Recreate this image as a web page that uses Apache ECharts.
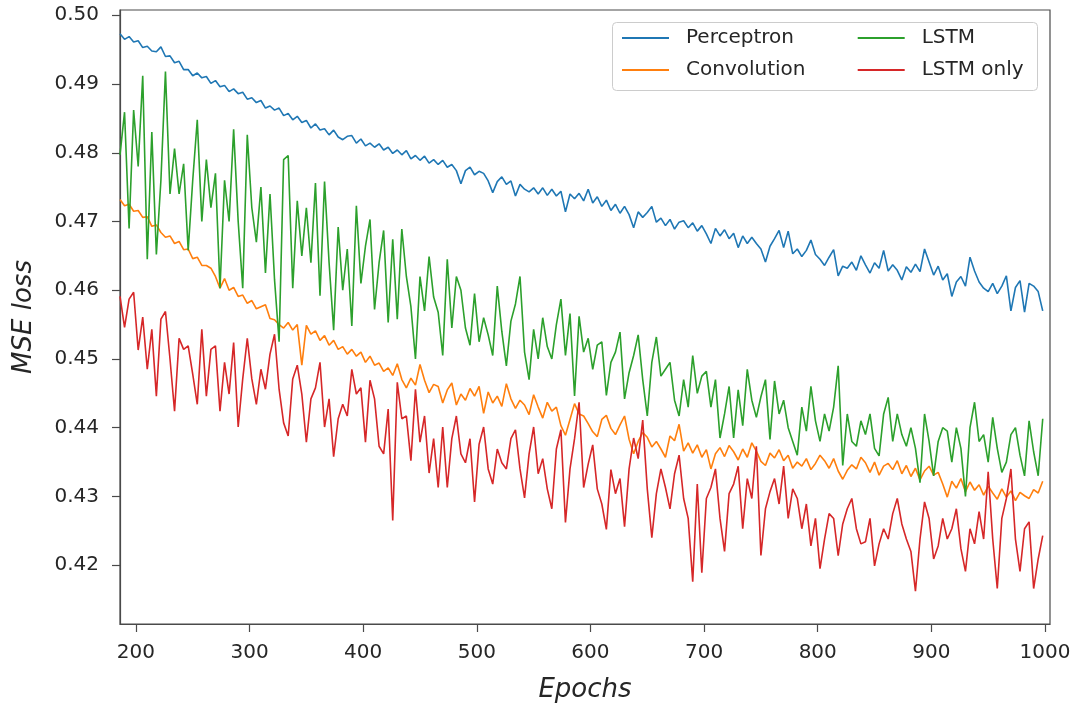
<!DOCTYPE html>
<html>
<head>
<meta charset="utf-8">
<title>MSE loss per epoch</title>
<script src="https://cdn.jsdelivr.net/npm/echarts@6/dist/echarts.min.js"></script>
<style>
  html, body { margin: 0; padding: 0; background: #ffffff; }
  #chart { width: 1075px; height: 708px; }
</style>
</head>
<body>
<div id="chart"></div>
<script>
// MSE loss of four model variants, sampled every 4 epochs from epoch 186.
const EPOCH_START = 186;
const EPOCH_STEP = 4;

const xTicks = [200, 300, 400, 500, 600, 700, 800, 900, 1000];
const yTicks = [0.42, 0.43, 0.44, 0.45, 0.46, 0.47, 0.48, 0.49, 0.50];

const seriesNames = ['Perceptron', 'Convolution', 'LSTM', 'LSTM only'];

const perceptron = [
  0.4973, 0.4965, 0.4969, 0.4961, 0.4963, 0.4953, 0.4955, 0.4948, 0.4947, 0.4954,
  0.4940, 0.4941, 0.4931, 0.4933, 0.4921, 0.4921, 0.4912, 0.4916, 0.4909, 0.4911,
  0.4901, 0.4905, 0.4896, 0.4898, 0.4889, 0.4893, 0.4886, 0.4888, 0.4878, 0.4880,
  0.4873, 0.4876, 0.4865, 0.4868, 0.4862, 0.4865, 0.4854, 0.4857, 0.4848, 0.4853,
  0.4844, 0.4847, 0.4836, 0.4842, 0.4833, 0.4835, 0.4826, 0.4833, 0.4823, 0.4819,
  0.4824, 0.4825, 0.4814, 0.4820, 0.4810, 0.4814, 0.4808, 0.4813, 0.4804, 0.4808,
  0.4799, 0.4804, 0.4797, 0.4803, 0.4791, 0.4796, 0.4789, 0.4795, 0.4785, 0.4790,
  0.4783, 0.4789, 0.4779, 0.4783, 0.4774, 0.4755, 0.4774, 0.4779, 0.4768, 0.4773,
  0.4770, 0.4759, 0.4742, 0.4758, 0.4765, 0.4754, 0.4759, 0.4737, 0.4754, 0.4747,
  0.4743, 0.4749, 0.4740, 0.4749, 0.4738, 0.4747, 0.4737, 0.4744, 0.4714, 0.4740,
  0.4733, 0.4741, 0.4730, 0.4747, 0.4727, 0.4736, 0.4722, 0.4731, 0.4716, 0.4725,
  0.4712, 0.4722, 0.4710, 0.4691, 0.4714, 0.4706, 0.4713, 0.4722, 0.4699, 0.4705,
  0.4694, 0.4703, 0.4689, 0.4699, 0.4701, 0.4691, 0.4698, 0.4686, 0.4694, 0.4682,
  0.4668, 0.4690, 0.4679, 0.4688, 0.4675, 0.4683, 0.4662, 0.4679, 0.4668, 0.4677,
  0.4668, 0.4660, 0.4641, 0.4664, 0.4675, 0.4687, 0.4662, 0.4686, 0.4653, 0.4660,
  0.4649, 0.4658, 0.4673, 0.4652, 0.4645, 0.4636, 0.4648, 0.4659, 0.4621, 0.4635,
  0.4632, 0.4641, 0.4629, 0.4650, 0.4637, 0.4625, 0.4640, 0.4632, 0.4658, 0.4628,
  0.4637, 0.4629, 0.4615, 0.4634, 0.4626, 0.4638, 0.4627, 0.4660, 0.4641, 0.4622,
  0.4635, 0.4615, 0.4624, 0.4591, 0.4612, 0.4620, 0.4606, 0.4648, 0.4628, 0.4612,
  0.4603, 0.4598, 0.4610, 0.4595, 0.4606, 0.4621, 0.4570, 0.4604, 0.4614, 0.4568,
  0.4610, 0.4606, 0.4598, 0.4570
];

const convolution = [
  0.4732, 0.4723, 0.4725, 0.4715, 0.4716, 0.4706, 0.4707, 0.4693, 0.4695, 0.4684,
  0.4677, 0.4679, 0.4668, 0.4671, 0.4659, 0.4660, 0.4646, 0.4648, 0.4636, 0.4636,
  0.4632, 0.4620, 0.4603, 0.4617, 0.4600, 0.4604, 0.4591, 0.4593, 0.4581, 0.4585,
  0.4573, 0.4576, 0.4579, 0.4559, 0.4557, 0.4550, 0.4545, 0.4553, 0.4542, 0.4550,
  0.4491, 0.4549, 0.4536, 0.4541, 0.4527, 0.4534, 0.4520, 0.4527, 0.4514, 0.4518,
  0.4507, 0.4514, 0.4504, 0.4510, 0.4495, 0.4504, 0.4491, 0.4494, 0.4482, 0.4487,
  0.4476, 0.4493, 0.4470, 0.4458, 0.4472, 0.4462, 0.4492, 0.4469, 0.4451, 0.4463,
  0.4460, 0.4436, 0.4455, 0.4465, 0.4433, 0.4449, 0.4440, 0.4457, 0.4446, 0.4460,
  0.4421, 0.4452, 0.4436, 0.4446, 0.4431, 0.4464, 0.4442, 0.4428, 0.4440, 0.4433,
  0.4419, 0.4448, 0.4430, 0.4414, 0.4437, 0.4424, 0.4430, 0.4403, 0.4389, 0.4412,
  0.4435, 0.4420, 0.4417, 0.4406, 0.4394, 0.4387, 0.4412, 0.4418, 0.4399, 0.4390,
  0.4404, 0.4417, 0.4383, 0.4362, 0.4380, 0.4393, 0.4386, 0.4372, 0.4380, 0.4369,
  0.4357, 0.4388, 0.4381, 0.4405, 0.4366, 0.4378, 0.4363, 0.4375, 0.4357, 0.4368,
  0.4340, 0.4362, 0.4371, 0.4358, 0.4374, 0.4365, 0.4353, 0.4369, 0.4357, 0.4378,
  0.4366, 0.4351, 0.4345, 0.4363, 0.4356, 0.4368, 0.4352, 0.4360, 0.4341, 0.4350,
  0.4344, 0.4355, 0.4339, 0.4348, 0.4360, 0.4352, 0.4341, 0.4355, 0.4337, 0.4325,
  0.4338, 0.4346, 0.4340, 0.4357, 0.4349, 0.4335, 0.4350, 0.4331, 0.4344, 0.4348,
  0.4339, 0.4352, 0.4333, 0.4345, 0.4329, 0.4341, 0.4324, 0.4337, 0.4344, 0.4331,
  0.4335, 0.4318, 0.4299, 0.4322, 0.4312, 0.4326, 0.4307, 0.4321, 0.4309, 0.4317,
  0.4302, 0.4315, 0.4305, 0.4296, 0.4311, 0.4299, 0.4308, 0.4294, 0.4306, 0.4301,
  0.4297, 0.4310, 0.4305, 0.4322
];

const lstm = [
  0.4797, 0.4859, 0.4690, 0.4862, 0.4780, 0.4912, 0.4645, 0.4830, 0.4652, 0.4760,
  0.4918, 0.4740, 0.4806, 0.4740, 0.4784, 0.4658, 0.4760, 0.4848, 0.4700, 0.4790,
  0.4720, 0.4770, 0.4603, 0.4760, 0.4700, 0.4834, 0.4700, 0.4603, 0.4826, 0.4720,
  0.4670, 0.4750, 0.4625, 0.4740, 0.4615, 0.4525, 0.4790, 0.4796, 0.4603, 0.4730,
  0.4650, 0.4720, 0.4640, 0.4756, 0.4592, 0.4758, 0.4640, 0.4542, 0.4692, 0.4600,
  0.4660, 0.4548, 0.4723, 0.4610, 0.4664, 0.4703, 0.4572, 0.4640, 0.4687, 0.4553,
  0.4674, 0.4558, 0.4689, 0.4620, 0.4576, 0.4500, 0.4620, 0.4570, 0.4649, 0.4590,
  0.4568, 0.4505, 0.4645, 0.4545, 0.4620, 0.4600, 0.4545, 0.4520, 0.4595, 0.4525,
  0.4560, 0.4535, 0.4505, 0.4606, 0.4540, 0.4490, 0.4555, 0.4580, 0.4620, 0.4510,
  0.4470, 0.4543, 0.4500, 0.4560, 0.4518, 0.4500, 0.4550, 0.4587, 0.4505, 0.4566,
  0.4446, 0.4562, 0.4510, 0.4530, 0.4485, 0.4520, 0.4525, 0.4447, 0.4495, 0.4510,
  0.4539, 0.4442, 0.4480, 0.4505, 0.4535, 0.4470, 0.4417, 0.4495, 0.4532, 0.4475,
  0.4485, 0.4495, 0.4440, 0.4417, 0.4470, 0.4430, 0.4505, 0.4450, 0.4475, 0.4482,
  0.4430, 0.4470, 0.4385, 0.4420, 0.4460, 0.4385, 0.4455, 0.4403, 0.4485, 0.4440,
  0.4415, 0.4445, 0.4470, 0.4383, 0.4468, 0.4420, 0.4440, 0.4400, 0.4380, 0.4360,
  0.4430, 0.4395, 0.4460, 0.4410, 0.4380, 0.4420, 0.4395, 0.4430, 0.4490, 0.4345,
  0.4420, 0.4380, 0.4373, 0.4410, 0.4390, 0.4420, 0.4370, 0.4359, 0.4420, 0.4444,
  0.4380, 0.4420, 0.4390, 0.4373, 0.4400, 0.4370, 0.4320, 0.4420, 0.4380, 0.4330,
  0.4380, 0.4400, 0.4395, 0.4350, 0.4400, 0.4370, 0.4300, 0.4400, 0.4437, 0.4380,
  0.4390, 0.4350, 0.4415, 0.4370, 0.4335, 0.4350, 0.4390, 0.4400, 0.4360, 0.4330,
  0.4410, 0.4365, 0.4330, 0.4413
];

const lstmOnly = [
  0.4591, 0.4546, 0.4587, 0.4597, 0.4513, 0.4561, 0.4485, 0.4543, 0.4446, 0.4558,
  0.4569, 0.4500, 0.4424, 0.4530, 0.4514, 0.4519, 0.4478, 0.4434, 0.4543, 0.4446,
  0.4514, 0.4519, 0.4424, 0.4495, 0.4449, 0.4524, 0.4401, 0.4471, 0.4530, 0.4471,
  0.4434, 0.4485, 0.4456, 0.4507, 0.4536, 0.4456, 0.4407, 0.4388, 0.4471, 0.4491,
  0.4449, 0.4379, 0.4442, 0.4458, 0.4495, 0.4401, 0.4442, 0.4358, 0.4413, 0.4434,
  0.4417, 0.4485, 0.4449, 0.4458, 0.4379, 0.4469, 0.4442, 0.4373, 0.4362, 0.4427,
  0.4265, 0.4466, 0.4413, 0.4417, 0.4352, 0.4456, 0.4379, 0.4417, 0.4334, 0.4384,
  0.4313, 0.4401, 0.4313, 0.4384, 0.4417, 0.4362, 0.4349, 0.4384, 0.4292, 0.4376,
  0.4401, 0.4340, 0.4318, 0.4369, 0.4349, 0.4340, 0.4384, 0.4397, 0.4340, 0.4298,
  0.4362, 0.4401, 0.4333, 0.4355, 0.4311, 0.4282, 0.4369, 0.4397, 0.4262, 0.4340,
  0.4384, 0.4437, 0.4313, 0.4347, 0.4375, 0.4311, 0.4289, 0.4252, 0.4339, 0.4304,
  0.4326, 0.4256, 0.4340, 0.4385, 0.4355, 0.4411, 0.4311, 0.4240, 0.4304, 0.4340,
  0.4313, 0.4282, 0.4333, 0.4360, 0.4297, 0.4268, 0.4176, 0.4318, 0.4189, 0.4297,
  0.4313, 0.4340, 0.4268, 0.4220, 0.4304, 0.4318, 0.4344, 0.4253, 0.4326, 0.4297,
  0.4373, 0.4214, 0.4282, 0.4307, 0.4326, 0.4289, 0.4344, 0.4268, 0.4311, 0.4297,
  0.4253, 0.4289, 0.4228, 0.4268, 0.4195, 0.4238, 0.4275, 0.4268, 0.4214, 0.4260,
  0.4282, 0.4297, 0.4253, 0.4231, 0.4234, 0.4268, 0.4199, 0.4231, 0.4253, 0.4238,
  0.4275, 0.4297, 0.4260, 0.4238, 0.4220, 0.4162, 0.4238, 0.4292, 0.4268, 0.4209,
  0.4228, 0.4268, 0.4238, 0.4253, 0.4282, 0.4224, 0.4191, 0.4253, 0.4231, 0.4278,
  0.4238, 0.4336, 0.4238, 0.4166, 0.4268, 0.4297, 0.4340, 0.4238, 0.4191, 0.4253,
  0.4263, 0.4166, 0.4209, 0.4243
];

const seriesValues = [perceptron, convolution, lstm, lstmOnly];
const seriesColors = ['#1f77b4', '#ff7f0e', '#2ca02c', '#d62728'];

const FONT = 'DejaVu Sans';
const TEXT = '#262626';
const FRAME = '#4a4a4a';

function toPairs(values) {
  return values.map((v, i) => [EPOCH_START + i * EPOCH_STEP, v]);
}

const chart = echarts.init(document.getElementById('chart'), null, { renderer: 'canvas' });

const legendCommon = {
  orient: 'vertical',
  icon: 'rect',
  itemWidth: 47,
  itemHeight: 2,
  itemGap: 12,
  padding: 0,
  z: 10,
  textStyle: {
    fontFamily: FONT,
    fontSize: 20,
    lineHeight: 20,
    color: TEXT,
    padding: [0, 0, 0, 12]
  }
};

chart.setOption({
  animation: false,
  backgroundColor: '#ffffff',
  textStyle: { fontFamily: FONT },
  grid: {
    left: 120, top: 10, width: 930, height: 615.7,
    show: true, borderColor: FRAME, borderWidth: 1.2, backgroundColor: 'transparent'
  },
  legend: [
    Object.assign({}, legendCommon, { data: seriesNames.slice(0, 2), left: 622, top: 28 }),
    Object.assign({}, legendCommon, { data: seriesNames.slice(2, 4), left: 857.7, top: 28 })
  ],
  graphic: [{
    type: 'rect',
    z: 5,
    shape: { x: 612.5, y: 22.5, width: 425, height: 68, r: 4 },
    style: { fill: 'rgba(255,255,255,0.8)', stroke: '#cccccc', lineWidth: 1 }
  }],
  xAxis: {
    type: 'value',
    min: 186,
    max: 1004.4,
    name: 'Epochs',
    nameLocation: 'middle',
    nameGap: 53,
    nameTextStyle: { fontFamily: FONT, fontStyle: 'italic', fontSize: 26, color: TEXT },
    axisLine: { show: true, lineStyle: { color: FRAME, width: 1.2 } },
    axisTick: { show: true, length: 8, customValues: xTicks, lineStyle: { color: FRAME, width: 1.2 } },
    axisLabel: {
      customValues: xTicks,
      margin: 19,
      fontFamily: FONT, fontSize: 20, color: TEXT,
      formatter: v => String(v)
    },
    splitLine: { show: false }
  },
  yAxis: {
    type: 'value',
    min: 0.41144,
    max: 0.50077,
    name: 'MSE loss',
    nameLocation: 'middle',
    nameGap: 83,
    nameTextStyle: { fontFamily: FONT, fontStyle: 'italic', fontSize: 26, color: TEXT },
    axisLine: { show: true, lineStyle: { color: FRAME, width: 1.2 } },
    axisTick: { show: true, length: 8, customValues: yTicks, lineStyle: { color: FRAME, width: 1.2 } },
    axisLabel: {
      customValues: yTicks,
      margin: 21,
      fontFamily: FONT, fontSize: 20, color: TEXT,
      formatter: v => v.toFixed(2)
    },
    splitLine: { show: false }
  },
  series: seriesNames.map((name, k) => ({
    name: name,
    type: 'line',
    data: toPairs(seriesValues[k]),
    symbol: 'none',
    showSymbol: false,
    color: seriesColors[k],
    lineStyle: { color: seriesColors[k], width: 1.6 },
    z: 2 + k,
    clip: true
  }))
});
</script>
</body>
</html>
